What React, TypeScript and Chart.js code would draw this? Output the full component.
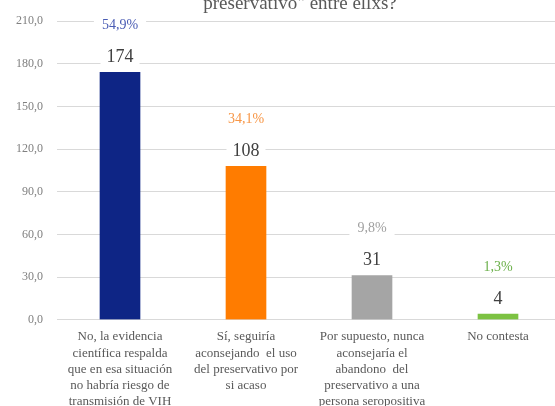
import React, { useEffect, useRef } from "react";
import { Chart, registerables } from "chart.js";

Chart.register(...registerables);

const categories: string[][] = [
  ["No, la evidencia", "científica respalda", "que en esa situación", "no habría riesgo de", "transmisión de VIH"],
  ["Sí, seguiría", "aconsejando  el uso", "del preservativo por", "si acaso"],
  ["Por supuesto, nunca", "aconsejaría el", "abandono  del", "preservativo a una", "persona seropositiva"],
  ["No contesta"],
];
const values: number[] = [174, 108, 31, 4];
const percentLabels: string[] = ["54,9%", "34,1%", "9,8%", "1,3%"];
const barColors: string[] = ["#0e2585", "#ff7c00", "#a5a5a5", "#7cc242"];
const percentColors: string[] = ["#4a5cb4", "#f79646", "#a0a0a0", "#6bb04a"];
const titleText = "preservativo\" entre ellxs?";

const FONT = "'Liberation Serif', 'DejaVu Serif', serif";

const labelPlugin = {
  id: "labels",
  afterDatasetsDraw(chart: any) {
    const ctx = chart.ctx;
    const meta = chart.getDatasetMeta(0);
    ctx.save();
    ctx.textAlign = "center";
    ctx.textBaseline = "middle";
    meta.data.forEach((bar: any, i: number) => {
      const x = bar.x;
      const vy = bar.y - 16;
      const py = vy - 32;
      ctx.font = `18px ${FONT}`;
      const vt = String(values[i]);
      const vw = ctx.measureText(vt).width;
      ctx.fillStyle = "#ffffff";
      ctx.fillRect(x - vw / 2 - 6, vy - 9, vw + 12, 18);
      ctx.fillStyle = "#404040";
      ctx.fillText(vt, x, vy + 1);
      ctx.font = `14px ${FONT}`;
      const pt = percentLabels[i];
      const pw = ctx.measureText(pt).width;
      ctx.fillStyle = "#ffffff";
      ctx.fillRect(x - pw / 2 - 8, py - 8, pw + 16, 16);
      ctx.fillStyle = percentColors[i];
      ctx.fillText(pt, x, py + 1);
    });
    const area = chart.chartArea;
    ctx.font = `19px ${FONT}`;
    ctx.fillStyle = "#595959";
    ctx.textBaseline = "alphabetic";
    ctx.fillText(titleText, (area.left + area.right) / 2 - 9, 9);
    ctx.restore();
  },
};

export default function App() {
  const ref = useRef<HTMLCanvasElement | null>(null);
  useEffect(() => {
    document.body.style.margin = "0";
    document.body.style.overflow = "hidden";
    if (!ref.current) return;
    const chart = new Chart(ref.current, {
      type: "bar",
      data: {
        labels: categories,
        datasets: [
          {
            data: values,
            backgroundColor: barColors,
            borderWidth: 0,
            barThickness: 40,
          },
        ],
      },
      options: {
        animation: false,
        responsive: false,
        maintainAspectRatio: false,
        layout: { padding: { top: 7, left: 2, right: 0, bottom: 0 } },
        plugins: {
          legend: { display: false },
          tooltip: { enabled: false },
          title: { display: false },
        },
        scales: {
          x: {
            grid: { display: false },
            border: { color: "#d9d9d9", width: 1 },
            ticks: {
              color: "#595959",
              font: { family: FONT, size: 13, lineHeight: 1.25 },
              padding: 1,
              maxRotation: 0,
              autoSkip: false,
            },
          },
          y: {
            min: 0,
            max: 210,
            grid: { color: "#d9d9d9", drawTicks: false },
            border: { display: false },
            ticks: {
              stepSize: 30,
              color: "#808080",
              padding: 14,
              font: { family: FONT, size: 12 },
              callback: (v: any) => Number(v).toFixed(1).replace(".", ","),
            },
          },
        },
      },
      plugins: [labelPlugin],
    });
    return () => chart.destroy();
  }, []);
  return (
    <div style={{ width: 555, height: 406, overflow: "hidden", position: "relative", background: "#fff" }}>
      <canvas ref={ref} width={561} height={411} style={{ display: "block" }} />
    </div>
  );
}
